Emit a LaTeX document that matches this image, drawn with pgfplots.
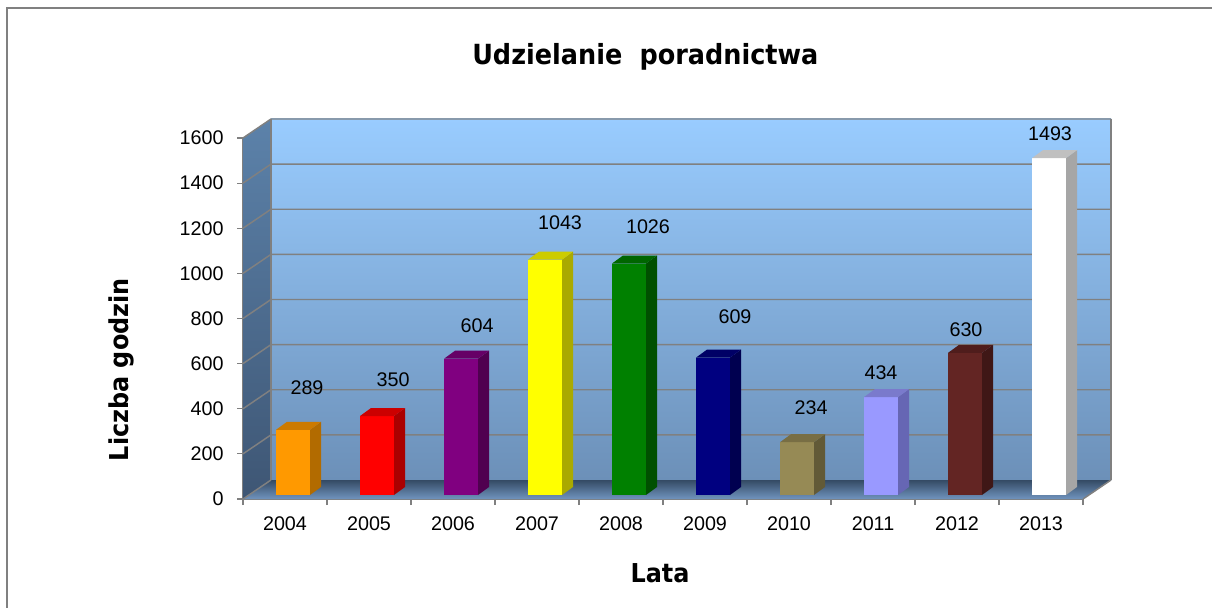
\documentclass[border=0pt]{standalone}
\usepackage{pgfplots}
\pgfplotsset{compat=1.18}
\usepackage{pgfplotstable}
\usepackage{fontspec}
\setmainfont{Liberation Sans}
\newfontfamily\tahoma[FakeStretch=0.92]{DejaVu Sans}
\newcommand\lblfont{\fontsize{14.8}{17}\selectfont}
\newcommand\bigfont{\tahoma\bfseries\fontsize{19.5}{23}\selectfont}
\newcommand\titlefont{\tahoma\bfseries\fontsize{20.8}{24}\selectfont}

\definecolor{framegray}{RGB}{128,128,128}
\definecolor{gridgray}{RGB}{128,128,128}
\definecolor{wallTop}{RGB}{153,204,255}
\definecolor{wallBot}{RGB}{108,144,184}
\definecolor{sideTop}{RGB}{92,130,170}
\definecolor{sideBot}{RGB}{62,86,116}
\definecolor{floorBack}{RGB}{52,74,100}
\definecolor{floorFront}{RGB}{112,148,190}
% bar colours: front, side, top
\definecolor{bf0}{RGB}{255,153,0}   \definecolor{bs0}{RGB}{178,107,0}  \definecolor{bt0}{RGB}{204,122,0}
\definecolor{bf1}{RGB}{255,0,0}     \definecolor{bs1}{RGB}{170,0,0}    \definecolor{bt1}{RGB}{204,0,0}
\definecolor{bf2}{RGB}{128,0,128}   \definecolor{bs2}{RGB}{80,0,80}    \definecolor{bt2}{RGB}{102,0,102}
\definecolor{bf3}{RGB}{255,255,0}   \definecolor{bs3}{RGB}{170,170,0}  \definecolor{bt3}{RGB}{204,204,0}
\definecolor{bf4}{RGB}{0,128,0}     \definecolor{bs4}{RGB}{0,80,0}     \definecolor{bt4}{RGB}{0,102,0}
\definecolor{bf5}{RGB}{0,0,128}     \definecolor{bs5}{RGB}{0,0,80}     \definecolor{bt5}{RGB}{0,0,102}
\definecolor{bf6}{RGB}{150,138,85}  \definecolor{bs6}{RGB}{98,90,55}   \definecolor{bt6}{RGB}{120,110,68}
\definecolor{bf7}{RGB}{153,153,255} \definecolor{bs7}{RGB}{102,102,180}\definecolor{bt7}{RGB}{122,122,204}
\definecolor{bf8}{RGB}{99,37,35}    \definecolor{bs8}{RGB}{63,23,22}   \definecolor{bt8}{RGB}{79,29,28}
\definecolor{bf9}{RGB}{255,255,255} \definecolor{bs9}{RGB}{166,166,166}\definecolor{bt9}{RGB}{192,192,192}

\pgfplotstableread{
idx year val lx ly
0 2004 289 0.262 492
1 2005 350 1.286 527
2 2006 604 2.286 767
3 2007 1043 3.274 1223
4 2008 1026 4.321 1206
5 2009 609 5.357 807
6 2010 234 6.262 403
7 2011 434 7.095 559
8 2012 630 8.107 749
9 2013 1493 9.107 1618
}\datatable

\tikzset{back/.style={xshift=21pt,yshift=14.25pt},
  gridline/.style={draw=gridgray,line width=1.1pt}}

\begin{document}
\begin{tikzpicture}[x=1pt,y=1pt]
\useasboundingbox (0,0) rectangle (909,455.25);
\draw[framegray, line width=1.8pt] (5.25,-3) -- (5.25,449.25) -- (915,449.25);
\node[font=\titlefont] at (484,412.5) {Udzielanie\hspace{0.3em} poradnictwa};
\node[font=\bigfont, rotate=90] at (90.75,178) {Liczba godzin};
\node[font=\bigfont] at (495,25.5) {Lata};

\begin{axis}[
  at={(182.25pt,81pt)}, anchor=south west,
  scale only axis, width=630pt, height=270.75pt,
  xmin=-0.5, xmax=9.5, ymin=0, ymax=1600,
  clip=false,
  axis x line*=bottom, axis y line*=left,
  axis line style={draw=gridgray, line width=1pt, -},
  xtick={-0.5,0.5,...,9.5}, xticklabels={},
  extra x ticks={0,...,9},
  extra x tick labels={2004,2005,2006,2007,2008,2009,2010,2011,2012,2013},
  extra x tick style={major tick length=0pt},
  xticklabel style={yshift=-9.5pt},
  ytick={0,200,...,1600},
  yticklabel style={xshift=-6.5pt},
  tick align=outside,
  major tick length=4.5pt,
  tick style={draw=gridgray, line width=0.9pt},
  ticklabel style={font=\lblfont},
  /pgf/number format/assume math mode=true,
  /pgf/number format/1000 sep={},
]
% back wall
\shade[top color=wallTop, bottom color=wallBot]
  ([back]axis cs:-0.5,0) rectangle ([back]axis cs:9.5,1600);
% side wall
\shade[top color=sideTop, bottom color=sideBot]
  (axis cs:-0.5,0) -- (axis cs:-0.5,1600) -- ([back]axis cs:-0.5,1600) -- ([back]axis cs:-0.5,0) -- cycle;
% floor
\shade[top color=floorBack, bottom color=floorFront]
  (axis cs:-0.5,0) -- (axis cs:9.5,0) -- ([back]axis cs:9.5,0) -- ([back]axis cs:-0.5,0) -- cycle;
% grid lines
\draw[gridline] (axis cs:-0.5,0) -- ([back]axis cs:-0.5,0);
\pgfplotsinvokeforeach{200,400,...,1600}{
  \draw[gridline] (axis cs:-0.5,#1) -- ([back]axis cs:-0.5,#1) -- ([back]axis cs:9.5,#1);
}
\draw[gridline] ([back]axis cs:-0.5,0) -- ([back]axis cs:-0.5,1600);
\draw[gridline] ([back]axis cs:9.5,0) -- ([back]axis cs:9.5,1600);
\draw[gridline] (axis cs:9.5,0) -- ([back]axis cs:9.5,0);
% bars
\pgfplotsinvokeforeach{0,...,9}{
  \pgfplotstablegetelem{#1}{val}\of\datatable \let\v\pgfplotsretval
  \pgfplotstablegetelem{#1}{lx}\of\datatable \let\lx\pgfplotsretval
  \pgfplotstablegetelem{#1}{ly}\of\datatable \let\ly\pgfplotsretval
  \edef\temp{%
    \noexpand\addplot[ybar, bar width=25.5pt, bar shift=6pt, yshift=3pt, fill=bf#1, draw=none] coordinates {(#1,\v)};
    \noexpand\fill[bs#1] ([xshift=18.75pt,yshift=3pt]axis cs:#1,0) -- ([xshift=18.75pt,yshift=3pt]axis cs:#1,\v) -- ([xshift=27pt,yshift=9pt]axis cs:#1,\v) -- ([xshift=27pt,yshift=9pt]axis cs:#1,0) -- cycle;
    \noexpand\fill[bt#1] ([xshift=-6.75pt,yshift=3pt]axis cs:#1,\v) -- ([xshift=18.75pt,yshift=3pt]axis cs:#1,\v) -- ([xshift=27pt,yshift=9pt]axis cs:#1,\v) -- ([xshift=1.5pt,yshift=9pt]axis cs:#1,\v) -- cycle;
    \noexpand\node[font=\noexpand\lblfont] at (axis cs:\lx,\ly) {\v};
  }\temp
}
\end{axis}
\end{tikzpicture}
\end{document}
